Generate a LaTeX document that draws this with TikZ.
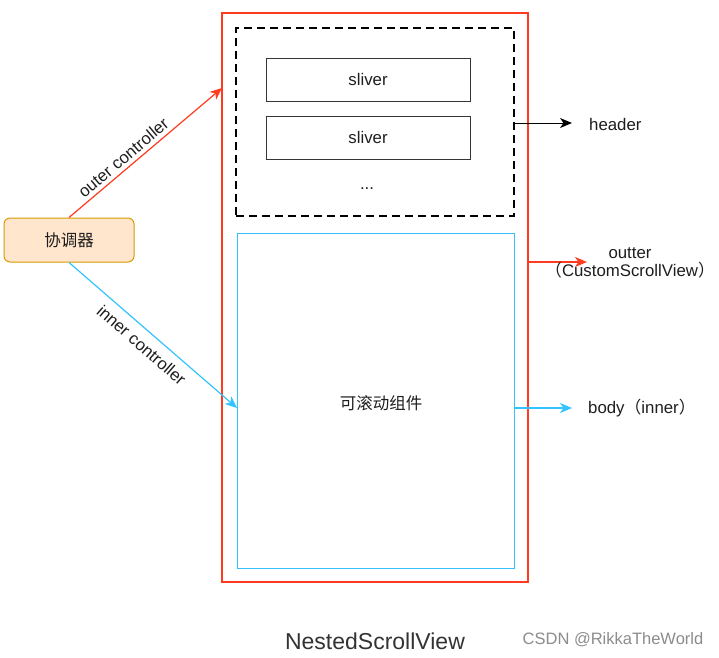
\documentclass[tikz,border=0pt]{standalone}
\usepackage{fontspec}
\setmainfont{Liberation Sans}
\newfontfamily\cjk{Noto Sans CJK SC}
\usetikzlibrary{arrows.meta}
\definecolor{myred}{HTML}{FF3A1E}
\definecolor{myblue}{HTML}{33C4FF}
\definecolor{peachfill}{HTML}{FFE6CC}
\definecolor{peachline}{HTML}{D79B00}
\definecolor{txt}{HTML}{1E1E1E}
\tikzset{
  lbl/.style={font=\fontsize{16.8}{19}\selectfont, text=txt, inner sep=1pt},
  box/.style={draw, minimum width=#1, inner sep=0pt},
  tipstyle/.style={-{Stealth[length=12pt,width=10pt,inset=3.5pt]}},
  arr/.style={tipstyle, line width=1.2pt},
}
\begin{document}
\begin{tikzpicture}[x=1pt,y=-1pt]
\useasboundingbox[fill=white] (0,0) rectangle (719,657);

% containers
\node[box=306pt, minimum height=569pt, draw=myred, line width=2.5pt] (outer) at (375,297.5) {};
\node[box=278pt, minimum height=188pt, draw=black, line width=2.2pt, dash pattern=on 8pt off 5pt] (header) at (375,122) {};
\node[box=204pt, minimum height=43pt, draw=txt!90, line width=1pt, lbl] (s1) at (368,79.5) {sliver};
\node[box=204pt, minimum height=43pt, draw=txt!90, line width=1pt, lbl] (s2) at (368,137.5) {sliver};
\node[lbl] (dots) at (367,189) {...};
\node[box=277pt, minimum height=335pt, draw=myblue, line width=1pt] (body) at (375.5,400.5) {};
\node[lbl, font=\cjk\fontsize{16.5}{19}\selectfont] (scroll) at (381,403) {可滚动组件};

% coordinator
\node[draw=peachline, fill=peachfill, rounded corners=6pt, minimum width=130pt, minimum height=44pt, line width=1pt, lbl, font=\cjk\fontsize{16.5}{19}\selectfont] (coord) at (69,240) {协调器};

% connectors from coordinator
\coordinate (oend) at (222,88);
\coordinate (iend) at (237,408);
\draw[arr, myred] (coord.north) -- (oend)
  node[lbl, sloped, pos=0.40, above=3pt] (olbl) {outer controller};
\draw[arr, myblue] (coord.south) -- (iend)
  node[lbl, sloped, pos=0.49, below=7pt] (ilbl) {inner controller};

% right-hand connectors
\coordinate (hs) at (514,123);
\coordinate (he) at (572,123);
\draw[arr, black, line width=1pt] (hs) -- (he);
\node[lbl, anchor=west] (htxt) at (588,124) {header};

\coordinate (os) at (528,262);
\coordinate (oe) at (587,262);
\draw[arr, myred] (os) -- (oe);
\node[lbl, align=center] (otxt) at (630,263) {outter\\[-1pt]{\cjk（}CustomScrollView{\cjk ）}};

\coordinate (bs) at (514,408);
\coordinate (be) at (572,408);
\draw[arr, myblue] (bs) -- (be);
\node[lbl, anchor=west] (btxt) at (587,408) {body{\cjk（}inner{\cjk ）}};

% captions
\node[font=\fontsize{23}{26}\selectfont, text=black!80] (title) at (375,641) {NestedScrollView};
\node[font=\fontsize{16.5}{19}\selectfont, text=black!45] (csdn) at (613,640) {CSDN @RikkaTheWorld};
\end{tikzpicture}
\end{document}
